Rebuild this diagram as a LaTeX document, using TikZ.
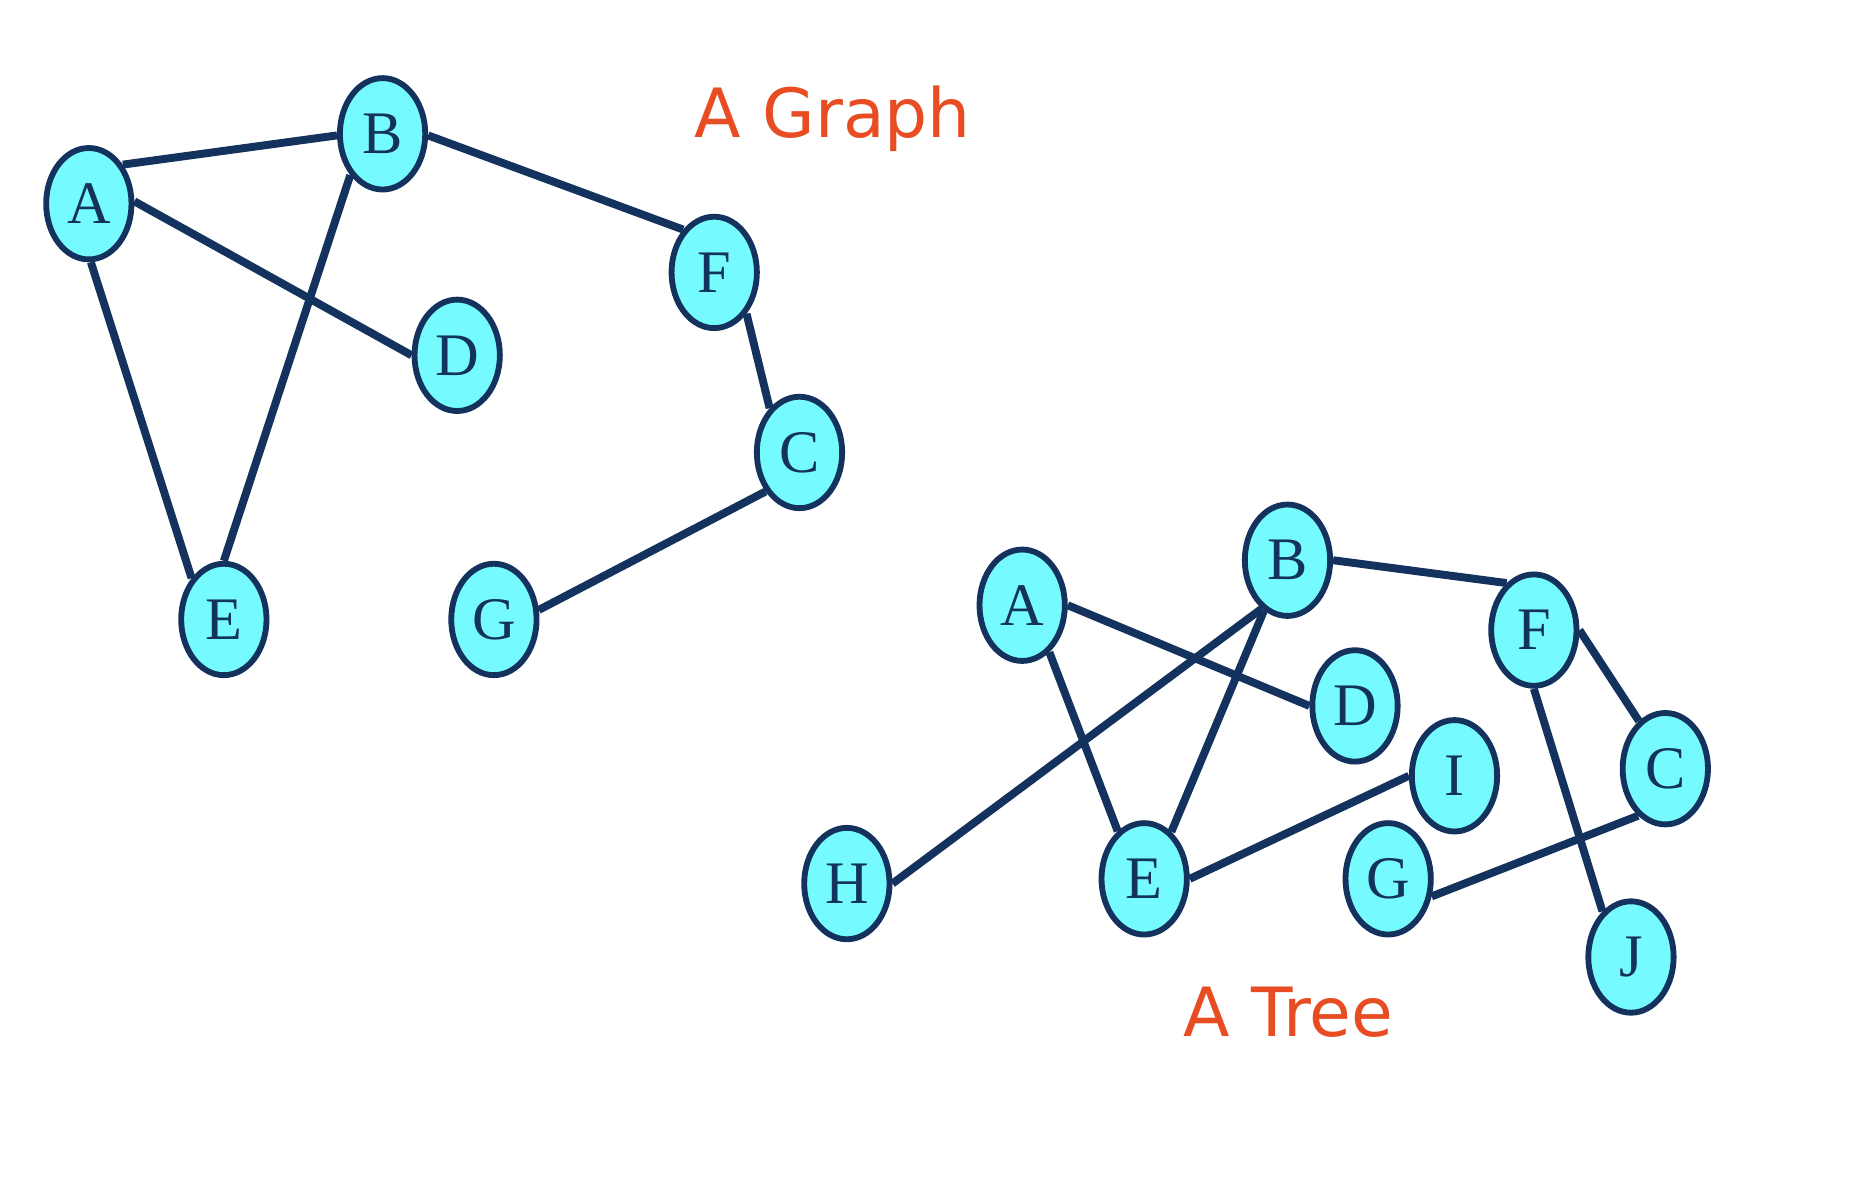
\documentclass[tikz,border=0pt]{standalone}
\usepackage{fontspec}
\setmainfont{Liberation Serif}
\newfontfamily\labelfont{DejaVu Sans}
\usetikzlibrary{positioning, shapes.geometric}

\definecolor{vfill}{HTML}{75FBFD}
\definecolor{navy}{HTML}{14325E}
\definecolor{titlered}{HTML}{E84C22}

\tikzset{
  vtx/.style={ellipse, draw=navy, line width=1.4pt, fill=vfill, minimum width=0.72cm,
    minimum height=0.94cm, inner sep=0pt, text=navy, font=\fontsize{14.5}{16}\selectfont},
  edge/.style={draw=navy, line width=1.9pt},
  title/.style={text=titlered, font=\labelfont\fontsize{16.3}{19}\selectfont}
}

\begin{document}
\begin{tikzpicture}[x=0.01cm, y=-0.01cm]
\useasboundingbox (0, 0) rectangle (1567, 995);

% graph
\node[vtx] (gA) at (75, 172){A};
\node[vtx] (gB) at (323, 113){B};
\node[vtx] (gF) at (603, 230){F};
\node[vtx] (gD) at (386, 300){D};
\node[vtx] (gC) at (675, 382){C};
\node[vtx] (gE) at (189, 523){E};
\node[vtx] (gG) at (417, 523){G};

\draw[edge] (gA.49) -- (gB.182);
\draw[edge] (gB.-2) -- (gF.126);
\draw[edge] (gA.3) -- (gD.180);
\draw[edge] (gA.-88) -- (gE.128);
\draw[edge] (gB.232) -- (gE.90);
\draw[edge] (gF.-52) -- (gC.124);
\draw[edge] (gC.229) -- (gG.12);

\node[title] (gtitle) at (703, 100){A Graph};

% tree
\node[vtx] (tA) at (863, 511){A};
\node[vtx] (tB) at (1087, 473){B};
\node[vtx] (tF) at (1295, 532){F};
\node[vtx] (tD) at (1144, 596){D};
\node[vtx] (tI) at (1228, 655){I};
\node[vtx] (tC) at (1406, 649){C};
\node[vtx] (tH) at (715, 746){H};
\node[vtx] (tE) at (966, 742){E};
\node[vtx] (tG) at (1172, 742){G};
\node[vtx] (tJ) at (1377, 808){J};

\draw[edge] (tB.0) -- (tF.120);
\draw[edge] (tA.0) -- (tD.180);
\draw[edge] (tH.0) -- (tB.242);
\draw[edge] (tA.-60) -- (tE.119);
\draw[edge] (tE.60) -- (tB.245);
\draw[edge] (tE.0) -- (tI.180);
\draw[edge] (tF.0) -- (tC.119);
\draw[edge] (tF.-90) -- (tJ.122);
\draw[edge] (tG.-22) -- (tC.240);

\node[title] (ttitle) at (1088, 855){A Tree};
\end{tikzpicture}
\end{document}
